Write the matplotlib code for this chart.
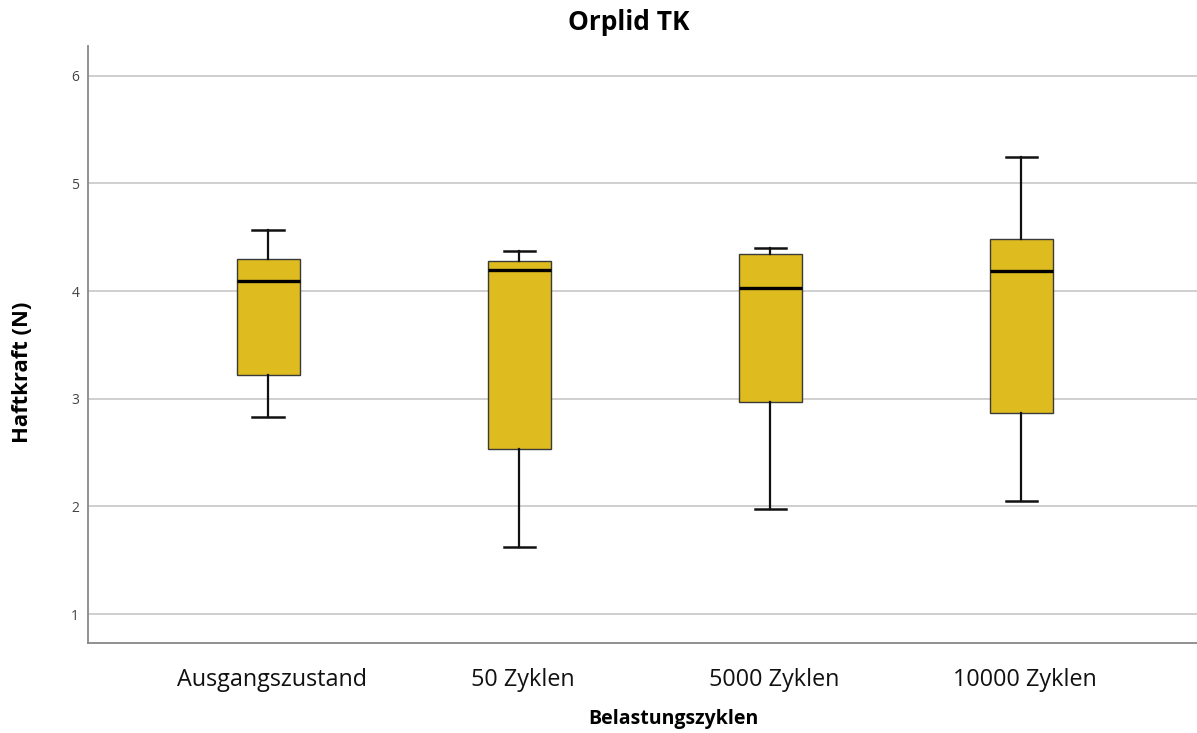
import matplotlib
matplotlib.use("Agg")
import matplotlib.pyplot as plt
import matplotlib.transforms as mtransforms

# Werte
kategorien = ["Ausgangszustand", "50 Zyklen", "5000 Zyklen", "10000 Zyklen"]
whisker_unten = [2.83, 1.62, 1.98, 2.05]
q1 = [3.22, 2.53, 2.97, 2.87]
median = [4.09, 4.20, 4.03, 4.19]
q3 = [4.30, 4.28, 4.34, 4.48]
whisker_oben = [4.57, 4.37, 4.40, 5.25]
y_ticks = [1, 2, 3, 4, 5, 6]

plt.rcParams['font.family'] = ['Open Sans', 'DejaVu Sans']

stats = []
for i in range(len(kategorien)):
    stats.append({
        'label': kategorien[i],
        'whislo': whisker_unten[i],
        'q1': q1[i],
        'med': median[i],
        'q3': q3[i],
        'whishi': whisker_oben[i],
        'fliers': [],
    })

fig = plt.figure(figsize=(11.97, 7.33), dpi=100)
ax = fig.add_axes([0.0731, 0.1224, 0.9269, 0.8153])

ax.bxp(stats, positions=range(len(kategorien)), widths=0.251, patch_artist=True,
       showfliers=False,
       boxprops=dict(facecolor='#DEBB1E', edgecolor='#3a3a3a', linewidth=1.0),
       medianprops=dict(color='black', linewidth=2.4),
       whiskerprops=dict(color='#111111', linewidth=1.6),
       capprops=dict(color='#111111', linewidth=1.8),
       zorder=3)

ax.set_xlim(-0.72, 3.70)
ax.set_ylim(0.728, 6.28)
ax.set_yticks(y_ticks)
ax.set_yticklabels([str(t) for t in y_ticks], fontsize=10, color='#444444')
ax.set_xticks(range(len(kategorien)))
ax.set_xticklabels(kategorien, fontsize=16.8, color='#111111')
ax.tick_params(axis='y', length=0, pad=6)
ax.tick_params(axis='x', length=0, pad=18)

# Beschriftungen leicht nach rechts versetzt wie im Original
offset = mtransforms.ScaledTranslation(4 / 100, 0, fig.dpi_scale_trans)
for lab in ax.get_xticklabels():
    lab.set_transform(lab.get_transform() + offset)

ax.yaxis.grid(True, color='#cccccc', linewidth=1.3, zorder=0)
ax.set_axisbelow(True)
for s in ['top', 'right']:
    ax.spines[s].set_visible(False)
for s in ['left', 'bottom']:
    ax.spines[s].set_color('#888888')
    ax.spines[s].set_linewidth(1.3)

fig.text(629 / 1197, 1 - 22 / 733, "Orplid TK", ha='center', va='center',
         fontsize=19, fontweight='bold')
fig.text(673 / 1197, 1 - 719 / 733, "Belastungszyklen", ha='center', va='center',
         fontsize=14, fontweight='bold')
fig.text(23 / 1197, 1 - 372 / 733, "Haftkraft (N)", ha='center', va='center',
         rotation=90, fontsize=15.8, fontweight='bold')

fig.savefig("out.png", dpi=100)
